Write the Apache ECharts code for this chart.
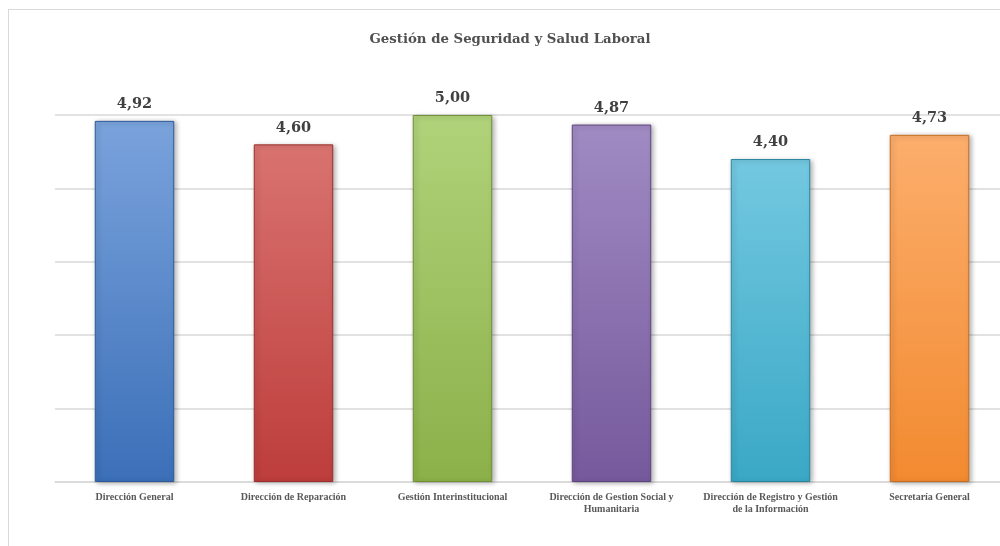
<!DOCTYPE html>
<html><head><meta charset="utf-8">
<script src="https://cdn.jsdelivr.net/npm/echarts@6/dist/echarts.min.js"></script>
<style>
html,body{margin:0;padding:0;background:#fff;overflow:hidden;width:1000px;height:546px;}
#frame{position:absolute;left:8px;top:9px;width:1010px;height:560px;border:1.5px solid #d9d9d9;box-sizing:border-box;}
#c{position:absolute;left:0;top:0;width:1010px;height:546px;}
</style></head>
<body><div id="frame"></div><div id="c"></div>
<script>
const title = 'Gestión de Seguridad y Salud Laboral';
const categories = ['Dirección General','Dirección de Reparación','Gestión Interinstitucional','Dirección de Gestion Social y\nHumanitaria','Dirección de Registro y Gestión\nde la Información','Secretaría General'];
const values = [4.92, 4.60, 5.00, 4.87, 4.40, 4.73];
const topColors = ['#7aa3dc','#d97370','#b0d27a','#a08bc3','#73c8e0','#fcae6c'];
const bottomColors = ['#3b6fb8','#bd3d3b','#8cb049','#76599c','#3aa8c6','#f28a30'];
const edgeColors = ['#2d5a97','#9a2e2c','#6f8f36','#5c4480','#2a869f','#c66d20'];

const chart = echarts.init(document.getElementById('c'));
chart.setOption({
  animation:false,
  title:{text:title,left:505,textAlign:'center',top:28,textStyle:{fontFamily:'DejaVu Serif',fontWeight:'bold',fontSize:13.3,color:'#505050'}},
  grid:{left:55,right:1,top:115,bottom:64,containLabel:false},
  xAxis:{type:'category',data:categories,
    axisLine:{lineStyle:{color:'#d9d9d9',width:1.5}},axisTick:{show:false},
    axisLabel:{interval:0,margin:9,fontFamily:'Liberation Serif',fontWeight:'bold',fontSize:10,color:'#595959',lineHeight:12}},
  yAxis:{type:'value',min:0,max:5,interval:1,axisLabel:{show:false},axisLine:{show:false},axisTick:{show:false},
    splitLine:{lineStyle:{color:'#d9d9d9',width:1.5}}},
  series:[{type:'bar',barWidth:'50%',
    data:values.map((v,i)=>({value:v,itemStyle:{
      color:new echarts.graphic.LinearGradient(0,0,0,1,[{offset:0,color:topColors[i]},{offset:1,color:bottomColors[i]}]),
      borderColor:edgeColors[i],borderWidth:1,
      shadowColor:'rgba(0,0,0,0.3)',shadowBlur:5,shadowOffsetX:2,shadowOffsetY:1}})),
    label:{show:true,position:'top',distance:9,fontFamily:'DejaVu Serif',fontWeight:'bold',fontSize:14.5,color:'#404040',
      formatter:p=>p.value.toFixed(2).replace('.',',')}
  }]
});
</script></body></html>
